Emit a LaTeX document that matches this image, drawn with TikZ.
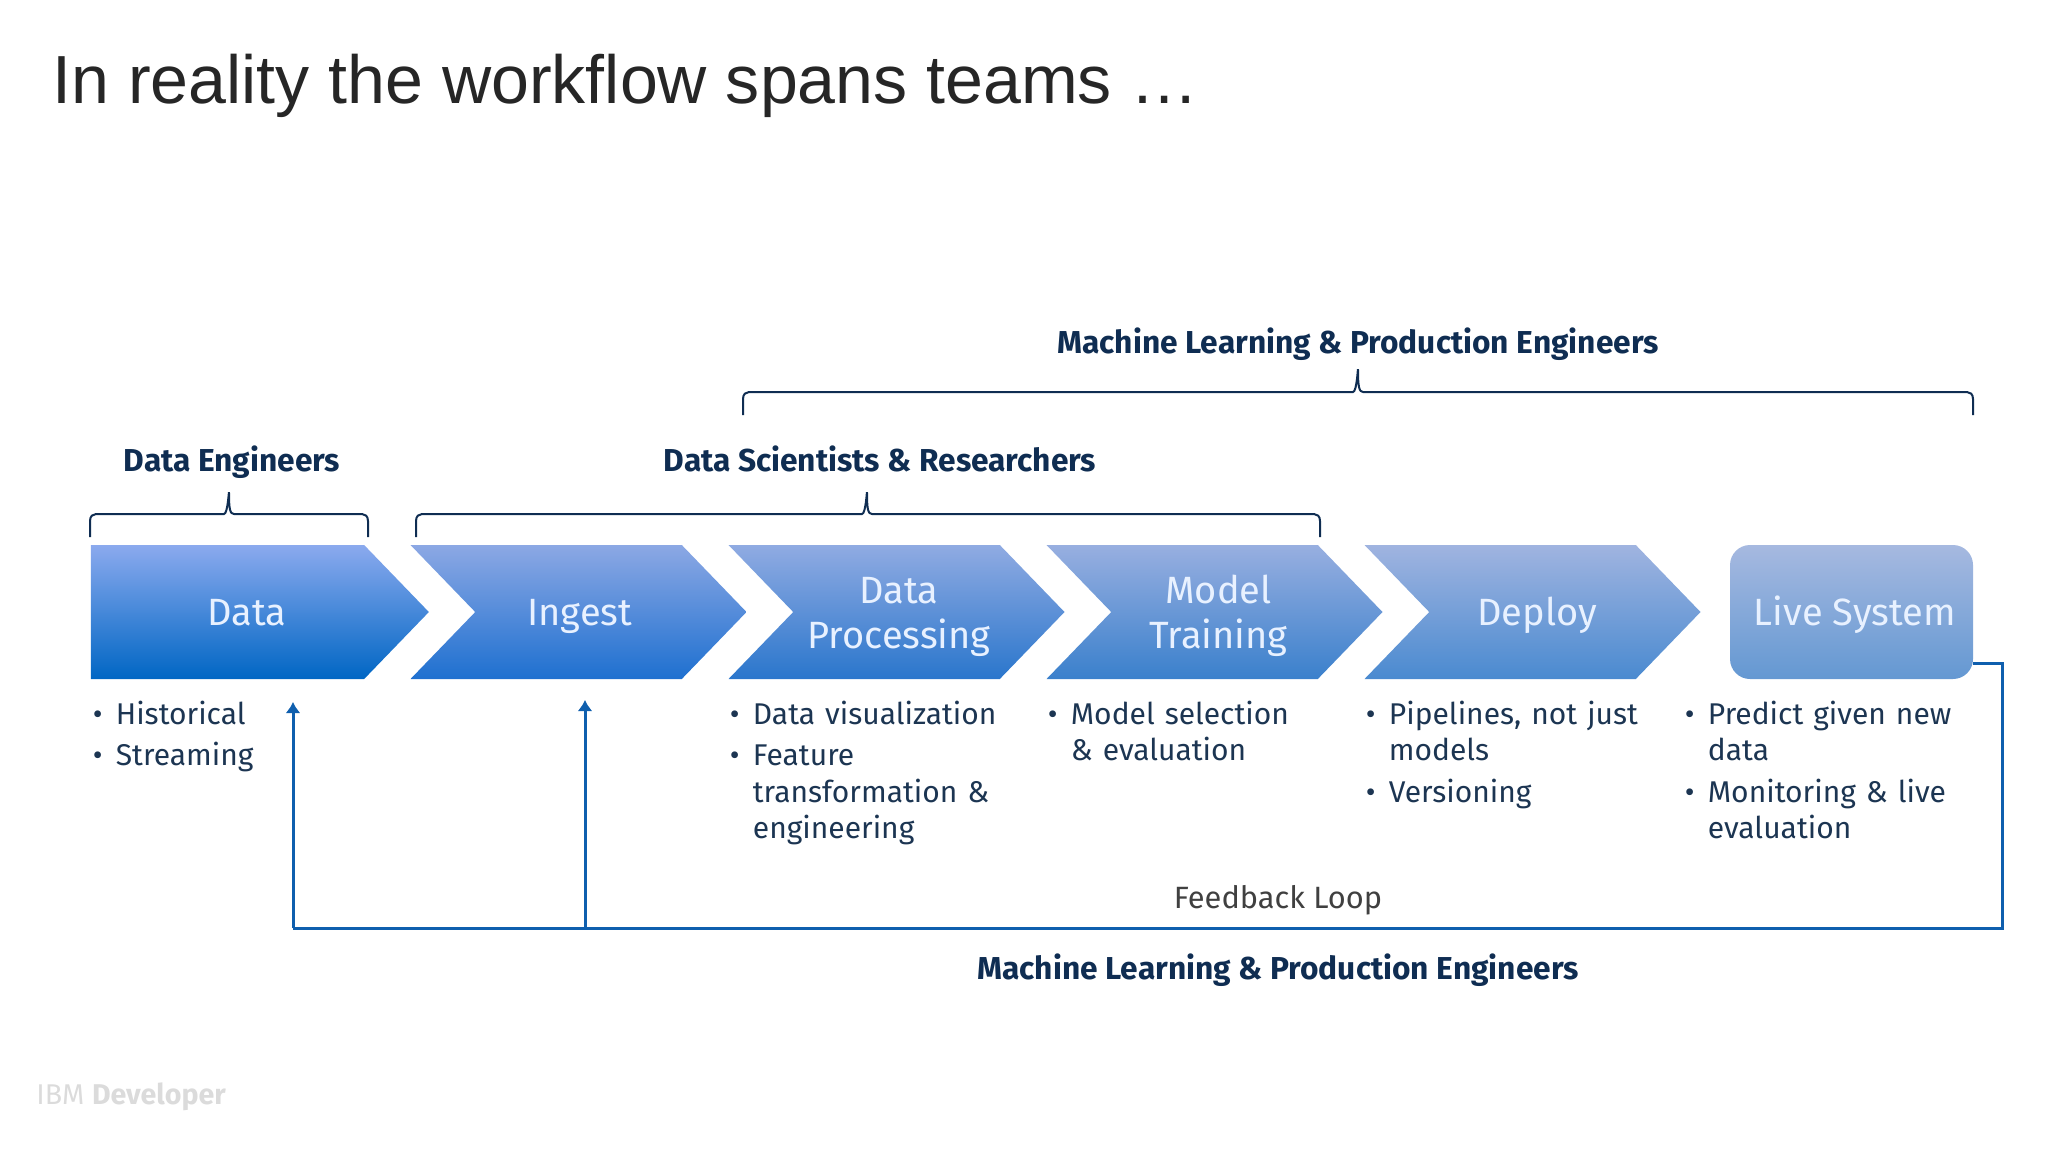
\documentclass[tikz,border=0pt]{standalone}
\usepackage{fontspec}
\setmainfont{Fira Sans}
\newfontfamily\titlefont{Liberation Sans}
\usepackage{tikz}
\usetikzlibrary{shapes,arrows,arrows.meta}
\usetikzlibrary{positioning,calc}

\definecolor{navyText}{HTML}{0F2D52}
\definecolor{listText}{HTML}{1C3552}
\definecolor{loopBlue}{HTML}{0F5FAE}
\definecolor{stageText}{HTML}{E8F1FF}

\newcommand{\stageitem}[1]{\par\hangindent=11.5pt\hangafter=1\makebox[11.5pt][l]{\textbullet}#1\par\vspace{2.5pt}}
\newcommand{\stagestrut}{\rule[-4.5pt]{0pt}{22.5pt}}
\newcommand{\teambrace}[1]{%
	\draw [bracket] (#1L) -- ++(0,-16) .. controls +(0,-5) and +(-3,0) .. ++(6,-7) -- ($(#1S |- #1L)+(-5,-23)$) .. controls +(4,0) and +(0,-6) .. (#1S) .. controls +(0,16) and +(-4,0) .. ($(#1S |- #1L)+(5,-23)$) -- ($(#1R)+(-6,-23)$) .. controls +(3,0) and +(0,-5) .. ($(#1R)+(0,-16)$) -- (#1R);
}

\begin{document}
\begin{tikzpicture}[x=0.5pt, y=-0.5pt, align=center, node distance=159pt, >={Latex[length=5.5pt,width=7.5pt]}]

%local definitions
\tikzstyle{Stage} = [signal, signal to=east, signal from=west, signal pointer angle=92, minimum height=67pt, minimum width=168pt, inner sep=0pt, outer sep=0pt, text=stageText, font=\fontsize{19}{22.5}\selectfont]
\tikzstyle{TeamLabel} = [inner sep=0pt, text height=12pt, text depth=4pt, text=navyText, font=\fontsize{15.85}{18}\selectfont\bfseries]
\tikzstyle{StageList} = [anchor=north west, inner sep=0pt, align=left, text width=150pt, text=listText, font=\fontsize{15}{18.3}\selectfont]
\tikzstyle{bracket} = [draw=navyText, line width=1pt]
\tikzstyle{feedback} = [draw=loopBlue, line width=1.5pt]

\useasboundingbox (0,0) rectangle (2048,1152);

%title
	\node [anchor=base west, inner sep=0pt, text=black!85, font=\fontsize{34.05}{40}\selectfont\titlefont] (Title) at (52,103) {In reality the workflow spans teams \dots};

%board components
	\node [Stage, signal from=nowhere, top color={rgb,255:red,139;green,170;blue,238}, bottom color={rgb,255:red,0;green,102;blue,196}, minimum width=169pt] (Data) at (227.5,612) {\hspace*{19.6pt}\stagestrut Data};
	\node [Stage, top color={rgb,255:red,140;green,168;blue,228}, bottom color={rgb,255:red,30;green,112;blue,208}] (Ingest) at (578.5,612) {\hspace*{1.3pt}\stagestrut Ingest};
	\node [Stage, right of=Ingest, top color={rgb,255:red,144;green,171;blue,226}, bottom color={rgb,255:red,42;green,118;blue,204}] (DataProcessing) {\hspace*{2.6pt}\stagestrut Data\\\hspace*{2.6pt}\stagestrut Processing};
	\node [Stage, right of=DataProcessing, top color={rgb,255:red,152;green,175;blue,224}, bottom color={rgb,255:red,58;green,128;blue,204}] (ModelTraining) {\hspace*{3.9pt}\stagestrut Model\\\hspace*{3.9pt}\stagestrut Training};
	\node [Stage, right of=ModelTraining, top color={rgb,255:red,160;green,180;blue,224}, bottom color={rgb,255:red,74;green,138;blue,208}] (Deploy) {\hspace*{4.6pt}\stagestrut Deploy};
	\node [rectangle, rounded corners=10pt, minimum height=67pt, minimum width=121.5pt, inner sep=0pt, outer sep=0pt, text=stageText, font=\fontsize{19}{22.5}\selectfont, top color={rgb,255:red,166;green,185;blue,224}, bottom color={rgb,255:red,100;green,152;blue,210}] (LiveSystem) at (1851.5,612) {\hspace*{3.3pt}\stagestrut Live System};

%team labels
	\node [TeamLabel] (TopTeam) at (1358,345) {Machine Learning \& Production Engineers};
	\node [TeamLabel] (DataTeam) at (232,463) {Data Engineers};
	\node [TeamLabel] (ScienceTeam) at (880,463) {Data Scientists \& Researchers};
	\node [TeamLabel] (BottomTeam) at (1278,971) {Machine Learning \& Production Engineers};
	\node [inner sep=0pt, text=black!75, font=\fontsize{15.4}{18}\selectfont] (LoopLabel) at (1278,900) {Feedback Loop};

%stage lists
	\node [StageList] (DataList) at (92.5,687) {\stageitem{Historical}\stageitem{Streaming}};
	\node [StageList] (ProcessingList) at (729.5,687) {\stageitem{Data visualization}\stageitem{Feature\newline transformation \&\newline engineering}};
	\node [StageList] (TrainingList) at (1047.5,687) {\stageitem{Model selection\newline \& evaluation}};
	\node [StageList] (DeployList) at (1365.5,687) {\stageitem{Pipelines, not just\newline models}\stageitem{Versioning}};
	\node [StageList] (LiveList) at (1684.5,687) {\stageitem{Predict given new\newline data}\stageitem{Monitoring \& live\newline evaluation}};

	\node [anchor=west, inner sep=0pt, text=black!14, font=\fontsize{14.3}{16}\selectfont] (Footer) at (36,1097) {IBM \textbf{Developer}};

%brace points
	\coordinate (dataBraceL) at (90,537);
	\coordinate (dataBraceR) at (368,537);
	\coordinate (dataBraceS) at (229,493);
	\coordinate (scienceBraceL) at (416,537);
	\coordinate (scienceBraceR) at (1320,537);
	\coordinate (scienceBraceS) at (867,493);
	\coordinate (topBraceL) at (743,415);
	\coordinate (topBraceR) at (1973,415);
	\coordinate (topBraceS) at (1358,370);

%loop points
	\coordinate (loopStart) at ($(LiveSystem.south east)+(0,-16)$);
	\coordinate (loopCorner) at (2002,928);
	\coordinate (loopLeft) at (293,928);
	\coordinate (loopIngest) at (585,928);
	\coordinate (dataTip) at (293,702);
	\coordinate (ingestTip) at (585,700);

%connections
	\teambrace{dataBrace}
	\teambrace{scienceBrace}
	\teambrace{topBrace}

	\draw [feedback] (loopStart) -| (loopCorner) -- (loopLeft);
	\draw [feedback,->] (loopLeft) -- (dataTip);
	\draw [feedback,->] (loopIngest) -- (ingestTip);

\end{tikzpicture}
\end{document}
